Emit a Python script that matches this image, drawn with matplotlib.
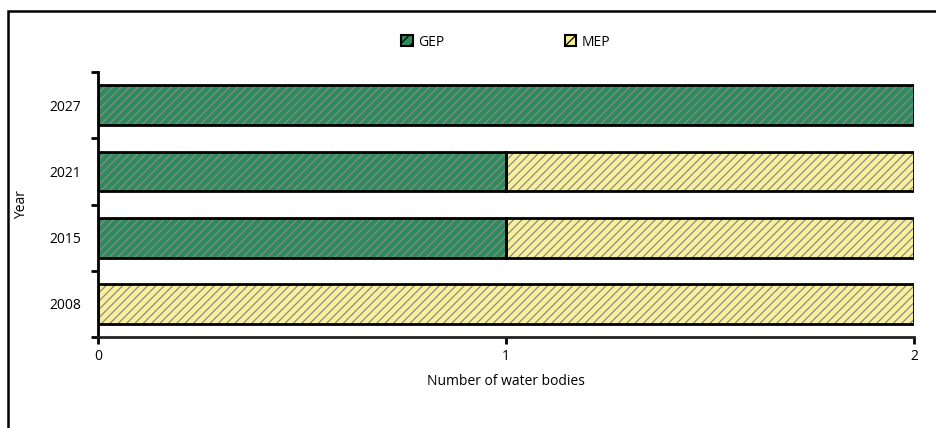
import matplotlib.pyplot as plt
from matplotlib.patches import Patch, Rectangle

plt.rcParams['font.family'] = ['Open Sans', 'DejaVu Sans']
plt.rcParams['hatch.linewidth'] = 0.9

years = ['2008', '2015', '2021', '2027']
gep = [0, 1, 1, 2]
mep = [2, 1, 1, 0]

green = '#2e8b5c'
yellow = '#f9f09c'
hatch_col = '#8a8a8a'

fig = plt.figure(figsize=(9.37, 4.28), dpi=100)
ax = fig.add_axes([98 / 937, 1 - 337 / 428, 816 / 937, 265 / 428])

pos = list(range(len(years)))
h = 0.6
# filled + hatched bars (hatch takes edge colour, so draw outline separately)
ax.barh(pos, gep, height=h, color=green, edgecolor=hatch_col, hatch='////', linewidth=0)
ax.barh(pos, mep, left=gep, height=h, color=yellow, edgecolor=hatch_col, hatch='////', linewidth=0)
for i in pos:
    if gep[i] > 0:
        ax.barh(i, gep[i], height=h, fill=False, edgecolor='black', linewidth=2)
    if mep[i] > 0:
        ax.barh(i, mep[i], left=gep[i], height=h, fill=False, edgecolor='black', linewidth=2)

ax.set_xlim(0, 2)
ax.set_ylim(-0.5, len(years) - 0.5)
ax.set_xticks([0, 1, 2])
ax.set_yticks([p - 0.5 for p in pos] + [len(years) - 0.5])
ax.set_yticklabels([])
ax.set_yticks(pos, minor=True)
ax.set_yticklabels(years, minor=True)
ax.tick_params(axis='y', which='minor', length=0, pad=12, labelsize=10)
ax.tick_params(axis='y', which='major', length=5, width=2)
ax.tick_params(axis='x', length=5, width=2, labelsize=10, pad=4)
for s in ['top', 'right']:
    ax.spines[s].set_visible(False)
ax.spines['left'].set_linewidth(2)
ax.spines['bottom'].set_linewidth(2)
ax.spines['bottom'].set_color('#222222')

ax.set_xlabel('Number of water bodies', fontsize=10, labelpad=7)
fig.text(22 / 937, 1 - 205 / 428, 'Year', rotation=90, fontsize=10, ha='center', va='center')

handles = [Patch(facecolor=green, edgecolor='black', hatch='///', linewidth=1.5, label='GEP'),
           Patch(facecolor=yellow, edgecolor='black', hatch='///', linewidth=1.5, label='MEP')]
fig.legend(handles=handles, loc='center', bbox_to_anchor=(506 / 937, 1 - 42 / 428), ncol=2,
           frameon=False, fontsize=10, handlelength=0.8, handleheight=0.8, handletextpad=0.4,
           columnspacing=8.7)

# outer frame of the chart area
fig.patches.append(Rectangle((8 / 937, -0.05), 1.1, 1 - 11 / 428 + 0.05, transform=fig.transFigure,
                             fill=False, edgecolor='black', linewidth=1.8, clip_on=False))

fig.savefig('out.png', dpi=100)
